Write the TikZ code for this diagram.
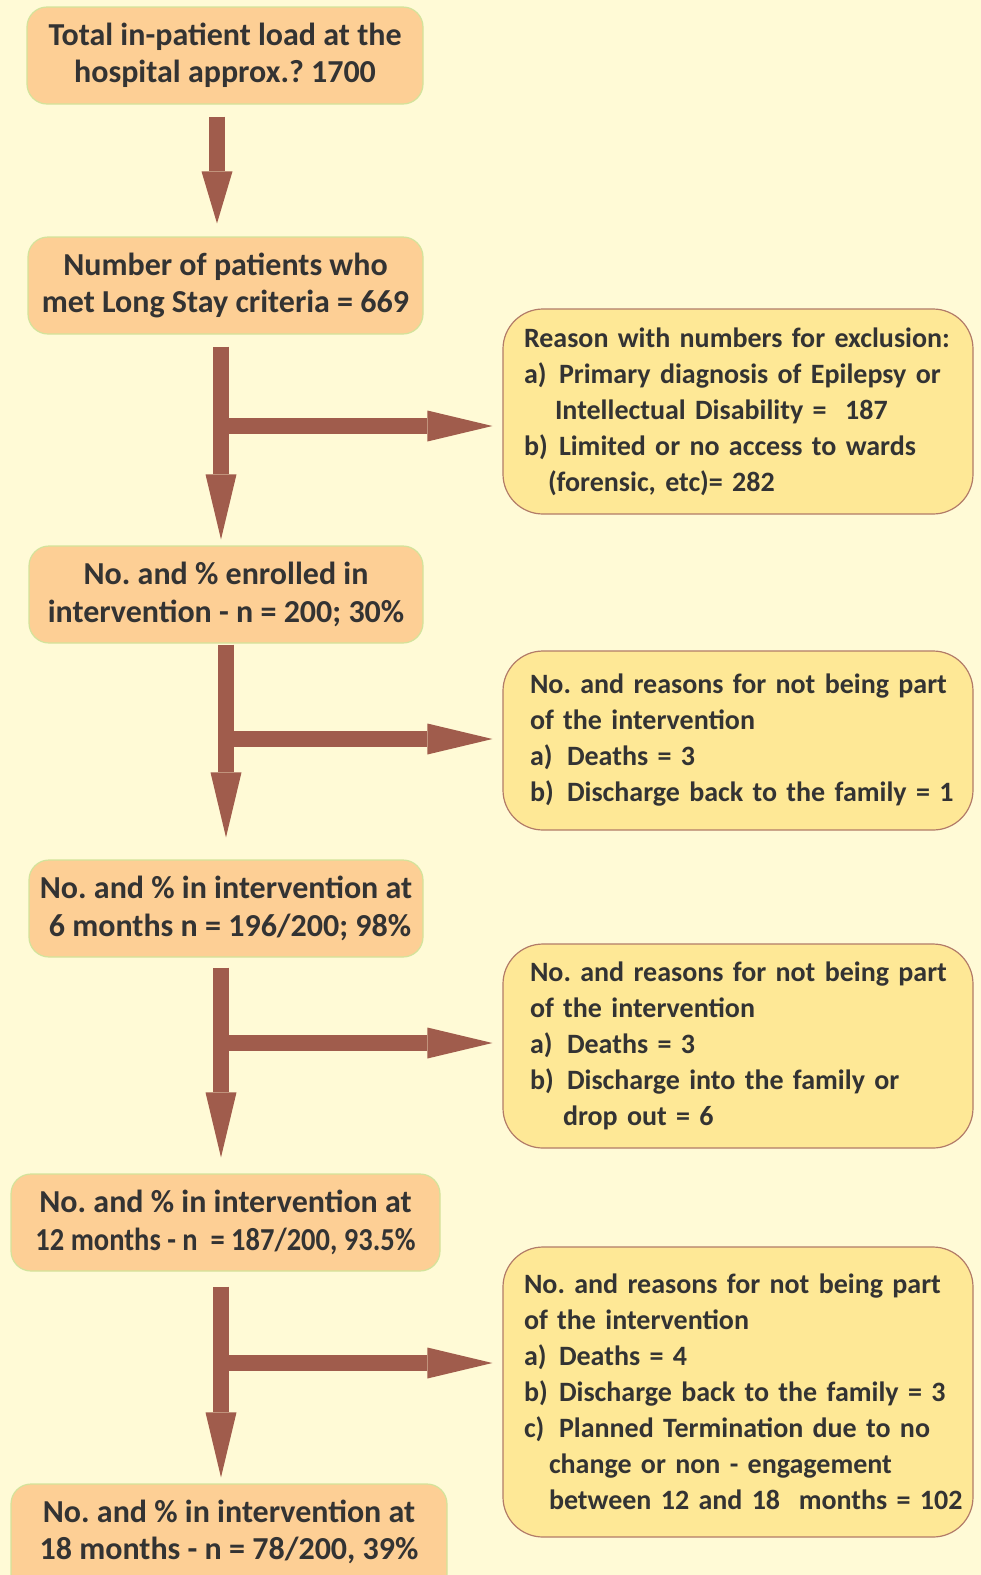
\documentclass[tikz,border=0pt]{standalone}
\usepackage{fontspec}
\usepackage{graphicx}
\setmainfont{Carlito}
\usetikzlibrary{arrows.meta}
\frenchspacing
\definecolor{bg}{HTML}{FFFAD6}
\definecolor{peach}{HTML}{FDCF95}
\definecolor{lgreen}{HTML}{D3E39B}
\definecolor{yfill}{HTML}{FEE896}
\definecolor{rborder}{HTML}{B27B68}
\definecolor{arrowc}{HTML}{A05C4C}
\definecolor{txt}{HTML}{333333}
\newcommand{\lab}[2][36pt]{\makebox[#1][l]{#2}}
\begin{document}
\begin{tikzpicture}[x=1pt,y=-1pt,
  mainbox/.style={draw=lgreen, line width=1.2pt, fill=peach, rounded corners=20pt,
    align=center, font=\bfseries\fontsize{32}{37.5}\selectfont, text=txt, inner sep=0pt},
  sidebox/.style={draw=rborder, line width=1.2pt, fill=yfill, rounded corners=40pt,
    align=left, font=\bfseries\fontsize{28}{36}\selectfont, text=txt, inner ysep=0pt},
  bigarrow/.style={draw=arrowc, line width=16pt,
    -{Triangle[length=65pt,width=31pt,line width=0pt]}},
  smallhead/.style={-{Triangle[length=52pt,width=31pt,line width=0pt]}}]
\fill[bg] (0,0) rectangle (981,1575);
\useasboundingbox (0,0) rectangle (981,1575);

% left boxes
\node[mainbox, minimum width=396pt, minimum height=97pt] (n1) at (225,55.5)
  {Total in-patient load at the\\hospital approx.? 1700};
\node[mainbox, minimum width=395pt, minimum height=97pt] (n2) at (225.5,285.5)
  {Number of patients who\\met Long Stay criteria = 669};
\node[mainbox, minimum width=394pt, minimum height=97pt] (n3) at (226,594.5)
  {No. and \% enrolled in\\intervention - n = 200; 30\%};
\node[mainbox, minimum width=394pt, minimum height=97pt] (n4) at (226,908.5)
  {No. and \% in intervention at\\\hspace*{8pt}6 months n = 196/200; 98\%};
\node[mainbox, minimum width=429pt, minimum height=97pt] (n5) at (225.5,1222.5)
  {No. and \% in intervention at\\\scalebox{0.89}[1]{12 months - n \ = 187/200, 93.5\%}};
\node[mainbox, minimum width=436pt, minimum height=110pt, text depth=19pt] (n6) at (229,1539)
  {No. and \% in intervention at\\18 months - n = 78/200, 39\%};

% side boxes
\node[sidebox, minimum width=470pt, minimum height=205pt, text width=428pt, inner xsep=21pt] (r1) at (738,411.5)
  {\mbox{Reason with numbers for exclusion:}\\
   \mbox{\lab[35pt]{a)}Primary diagnosis of Epilepsy or}\\
   \mbox{\hspace*{31pt}Intellectual Disability = \ 187}\\
   \mbox{\lab[35pt]{b)}Limited or no access to wards}\\
   \mbox{\hspace*{24pt}(forensic, etc)= 282}};
\node[sidebox, minimum width=470pt, minimum height=179pt, text width=416pt, inner xsep=27pt] (r2) at (738,740.5)
  {\mbox{No. and reasons for not being part}\\
   \mbox{of the intervention}\\
   \mbox{\lab[37pt]{a)}Deaths = 3}\\
   \mbox{\lab[37pt]{b)}Discharge back to the family = 1}};
\node[sidebox, minimum width=470pt, minimum height=204pt, text width=416pt, inner xsep=27pt] (r3) at (738,1046)
  {\mbox{No. and reasons for not being part}\\
   \mbox{of the intervention}\\
   \mbox{\lab[37pt]{a)}Deaths = 3}\\
   \mbox{\lab[37pt]{b)}Discharge into the family or}\\
   \mbox{\hspace*{33pt}drop out = 6}};
\node[sidebox, minimum width=470pt, minimum height=290pt, text width=428pt, inner xsep=21pt] (r4) at (738,1392)
  {\mbox{No. and reasons for not being part}\\
   \mbox{of the intervention}\\
   \mbox{\lab[35pt]{a)}Deaths = 4}\\
   \mbox{\lab[35pt]{b)}Discharge back to the family = 3}\\
   \mbox{\lab[35pt]{c)}Planned Termination due to no}\\
   \mbox{\hspace*{25pt}change or non - engagement}\\
   \mbox{\hspace*{25pt}between 12 and 18 \ months = 102}};

% arrows
\draw[bigarrow, smallhead] ([xshift=-8pt,yshift=-12pt]n1.south) -- ([xshift=-8.5pt,yshift=13pt]n2.north);

\draw[bigarrow] ([xshift=-4.5pt,yshift=-12pt]n2.south) -- ([xshift=-5pt,yshift=6pt]n3.north);
\coordinate (j2) at (221,426);
\draw[bigarrow, shorten >=10pt] (j2) -- (j2 -| r1.west);

\draw[bigarrow] ([xshift=0pt,yshift=-1pt]n3.south) -- ([xshift=0pt,yshift=22pt]n4.north);
\coordinate (j3) at (226,739);
\draw[bigarrow, shorten >=10pt] (j3) -- (j3 -| r2.west);

\draw[bigarrow] ([xshift=-5pt,yshift=-10pt]n4.south) -- ([xshift=-4.5pt,yshift=16pt]n5.north);
\coordinate (j4) at (221,1043);
\draw[bigarrow, shorten >=10pt] (j4) -- (j4 -| r3.west);

\draw[bigarrow] ([xshift=-4.5pt,yshift=-15pt]n5.south) -- ([xshift=-8pt,yshift=6pt]n6.north);
\coordinate (j5) at (221,1363);
\draw[bigarrow, shorten >=10pt] (j5) -- (j5 -| r4.west);
\end{tikzpicture}
\end{document}
